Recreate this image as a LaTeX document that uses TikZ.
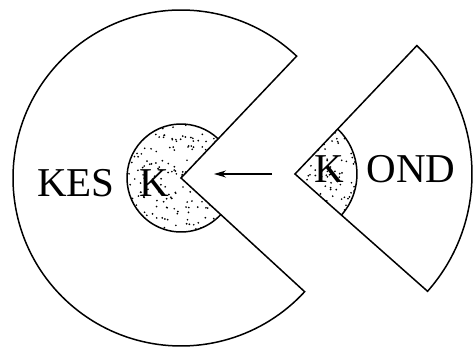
\documentclass[tikz,border=0pt]{standalone}
\usepackage{fontspec}
\setmainfont{Liberation Serif}
\usetikzlibrary{arrows.meta}
\tikzset{
  outline/.style={draw=black, line width=1.5pt, line join=miter},
  lbl/.style={font=\fontsize{41}{41}\selectfont, inner sep=0pt, anchor=base},
  stipple/.style={fill=black, draw=none},
}
\begin{document}
\begin{tikzpicture}[x=1pt,y=1pt]
\useasboundingbox (0,-347) rectangle (474,0);
% centres
\coordinate (c1) at (181,-178);
\coordinate (c2) at (295,-174);
% big cut circle
\draw[outline] (c1) -- ++(46.5:168) arc[start angle=46.5, end angle=317.4, radius=168] -- cycle;
% inner stippled part (left)
\begin{scope}
  \clip (c1) -- ++(46.5:54) arc[start angle=46.5, end angle=317.4, radius=54] -- cycle;
  \pgfmathsetseed{7}
  \foreach \i in {1,...,230} {
    \fill[stipple] ({126+110*rnd},{-123-110*rnd}) circle (0.95);
  }
\end{scope}
\draw[outline] (c1) ++(46.5:54) arc[start angle=46.5, end angle=317.4, radius=54];
% right sector
\draw[outline] (c2) -- ++(-41.5:177) arc[start angle=-41.5, end angle=46.5, radius=177] -- cycle;
\begin{scope}
  \clip (c2) -- ++(-41.5:62) arc[start angle=-41.5, end angle=46.5, radius=62] -- cycle;
  \pgfmathsetseed{11}
  \foreach \i in {1,...,150} {
    \fill[stipple] ({294+65*rnd},{-110-128*rnd}) circle (0.95);
  }
\end{scope}
\draw[outline] (c2) ++(-41.5:62) arc[start angle=-41.5, end angle=46.5, radius=62];
% labels
\node[lbl] (kes) at (76,-197) {KES};
\node[lbl] (k1) at (154,-197) {K};
\node[lbl] (k2) at (329,-183) {K};
\node[lbl] (ond) at (411,-183) {OND};
% arrow
\coordinate (as) at (272,-174);
\coordinate (ae) at (214,-174);
\draw[line width=1.2pt, -{Stealth[length=12pt,width=7pt]}] (as) -- (ae);
\end{tikzpicture}
\end{document}
